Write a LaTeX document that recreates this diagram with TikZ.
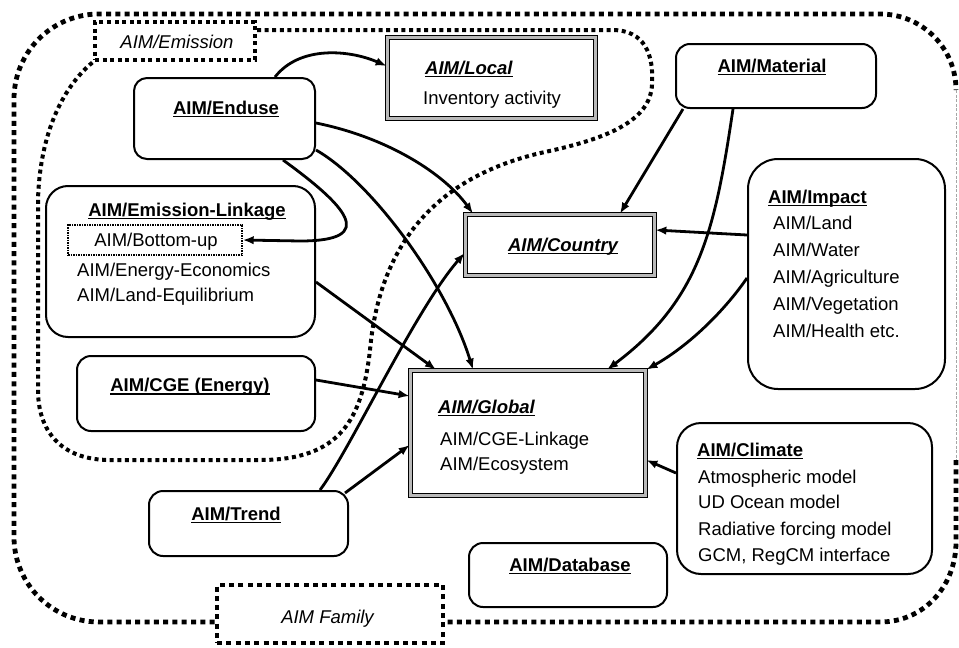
\documentclass[tikz,border=0pt]{standalone}
\usepackage{fontspec}
\setmainfont{Liberation Sans}
\usetikzlibrary{arrows.meta,calc}
\newcommand{\uln}[1]{\leavevmode\setbox0=\hbox{#1}\rlap{\copy0}\rule[-3pt]{\wd0}{1.2pt}}
\begin{document}
\begin{tikzpicture}[x=1pt,y=-1pt, font=\fontsize{18.5}{22}\selectfont,
  rbox/.style={draw, fill=white, line width=2pt, rounded corners=14pt, inner sep=0pt},
  tbox/.style={draw, fill=white, line width=1.7pt, double=gray!55, double distance=2.4pt, inner sep=0pt},
  arr/.style={line width=2.8pt, -{Latex[length=11pt,width=8.5pt]}},
  bigdot/.style={line width=4.8pt, dash pattern=on 5pt off 4.3pt},
  meddot/.style={line width=4pt, dash pattern=on 4pt off 3.6pt},
  lbl/.style={inner sep=0pt, anchor=base west},
  clbl/.style={inner sep=0pt, anchor=base},
]
\useasboundingbox (0,0) rectangle (959,648);
\clip (0,0) rectangle (959,648);

% dotted label boxes
\node[draw, bigdot, minimum width=226pt, minimum height=58pt, inner sep=0pt] (fam) at (330,614) {};
\node[clbl] (fam-t) at (327.5,623) {\itshape AIM Family};
\node[draw, meddot, minimum width=160pt, minimum height=38pt, inner sep=0pt] (emlab) at (175,41) {};
\node[clbl] (emlab-t) at (177,48.5) {\itshape AIM/Emission};

% outer AIM family border
\draw[bigdot] (956,460) -- (956,542) .. controls (956,586) and (924,622) .. (880,622) -- (fam.east |- 0,622);
\draw[bigdot] (fam.west |- 0,622) -- (99,622) .. controls (52,622) and (14,584) .. (14,537) -- (14,99) .. controls (14,52) and (52,14) .. (99,14) -- (880,14) .. controls (922,14) and (956,48) .. (956,90);
\draw[gray!70, line width=0.6pt, dash pattern=on 3pt off 1.5pt] (956,90) -- (956,460);

% AIM/Emission region
\draw[meddot] (emlab.east |- 0,30) -- (612,30) .. controls (645,30) and (654,55) .. (652,85) .. controls (650,120) and (610,138) .. (545,152) .. controls (440,175) and (380,240) .. (370,350) .. controls (362,420) and (340,460) .. (260,460) -- (110,460) .. controls (60,460) and (38,430) .. (38,390) -- (38,200) .. controls (40,130) and (65,85) .. (emlab.south west);

% boxes
\node[rbox, minimum width=181pt, minimum height=81pt, rounded corners=13pt] (enduse) at (224.5,118.5) {};
\node[clbl] (enduse-t) at (226,114) {\bfseries\uln{AIM/Enduse}};

\node[tbox, minimum width=208pt, minimum height=81pt] (local) at (491.5,78) {};
\node[lbl] (local-t) at (425,74) {\bfseries\itshape\uln{AIM/Local}};
\node[lbl] (local-1) at (423,104) {Inventory activity};

\node[rbox, minimum width=200pt, minimum height=64pt] (material) at (776,76) {};
\node[clbl] (material-t) at (772,72) {\bfseries\uln{AIM/Material}};

\node[rbox, minimum width=269pt, minimum height=151pt, rounded corners=22pt] (emlink) at (180.5,261.5) {};
\node[clbl] (emlink-t) at (187,216) {\bfseries\uln{AIM/Emission-Linkage}};
\node[draw, line width=1.4pt, dash pattern=on 1.5pt off 1pt, minimum width=174pt, minimum height=30pt, inner sep=0pt] (bu) at (155,240) {};
\node[clbl] (bu-t) at (156,246) {AIM/Bottom-up};
\node[lbl] (emlink-2) at (77,276) {AIM/Energy-Economics};
\node[lbl] (emlink-3) at (77,301) {AIM/Land-Equilibrium};

\node[rbox, minimum width=238pt, minimum height=75pt] (cge) at (196,393.5) {};
\node[clbl] (cge-t) at (190,391.5) {\bfseries\uln{AIM/CGE (Energy)}};

\node[tbox, minimum width=189pt, minimum height=61pt] (country) at (560,245) {};
\node[clbl] (country-t) at (563,251) {\bfseries\itshape\uln{AIM/Country}};

\node[tbox, minimum width=235pt, minimum height=125pt] (global) at (528,433) {};
\node[lbl] (global-t) at (438,413) {\bfseries\itshape\uln{AIM/Global}};
\node[lbl] (global-1) at (440,445) {AIM/CGE-Linkage};
\node[lbl] (global-2) at (440,470) {AIM/Ecosystem};

\node[rbox, minimum width=197pt, minimum height=230pt, rounded corners=30pt] (impact) at (846.5,274) {};
\node[lbl] (impact-t) at (768,203) {\bfseries\uln{AIM/Impact}};
\node[lbl] (impact-1) at (773,229) {AIM/Land};
\node[lbl] (impact-2) at (773,256) {AIM/Water};
\node[lbl] (impact-3) at (773,283) {AIM/Agriculture};
\node[lbl] (impact-4) at (773,310) {AIM/Vegetation};
\node[lbl] (impact-5) at (773,337) {AIM/Health etc.};

\node[rbox, minimum width=255pt, minimum height=151pt, rounded corners=24pt] (climate) at (804.5,498.5) {};
\node[lbl] (climate-t) at (697,456) {\bfseries\uln{AIM/Climate}};
\node[lbl] (climate-1) at (698,483) {Atmospheric model};
\node[lbl] (climate-2) at (698,508.5) {UD Ocean model};
\node[lbl] (climate-3) at (698,535) {Radiative forcing model};
\node[lbl] (climate-4) at (698,561) {GCM, RegCM interface};

\node[rbox, minimum width=198pt, minimum height=64pt] (database) at (568,575) {};
\node[clbl] (database-t) at (570,571) {\bfseries\uln{AIM/Database}};

\node[rbox, minimum width=199pt, minimum height=65pt] (trend) at (248.5,523.5) {};
\node[clbl] (trend-t) at (236,520) {\bfseries\uln{AIM/Trend}};

% arrows
\draw[arr] (275,0 |- enduse.north) .. controls (300,45) and (350,50) .. (0,66 -| local.west);
\draw[arr] (enduse.east |- 0,123) .. controls (390,138) and (445,175) .. (473,0 |- country.north);
\draw[arr] (enduse.east |- 0,150) .. controls (372,182) and (447,285) .. (473,0 |- global.north);
\draw[arr] (283,0 |- enduse.south) .. controls (345,205) and (380,241) .. (300,241) -- (bu.east);
\draw[arr] (emlink.east |- 0,282) -- (436,0 |- global.north);
\draw[arr] (cge.east |- 0,380) -- (global.west |- 0,396);
\draw[arr] ($(trend.north east)+(-4,3)$) -- (global.west |- 0,445);
\draw[arr] (320,0 |- trend.north) .. controls (350,450) and (415,310) .. (country.west |- 0,253);
\draw[arr] (683,0 |- material.south) -- (620,0 |- country.north);
\draw[arr] (733,0 |- material.south) .. controls (715,230) and (700,300) .. (607,0 |- global.north);
\draw[arr] (impact.west |- 0,235) -- (country.east |- 0,230);
\draw[arr] (impact.west |- 0,278) .. controls (725,310) and (690,345) .. (global.north east);
\draw[arr] (climate.west |- 0,473) -- (global.east |- 0,460);
\end{tikzpicture}
\end{document}
